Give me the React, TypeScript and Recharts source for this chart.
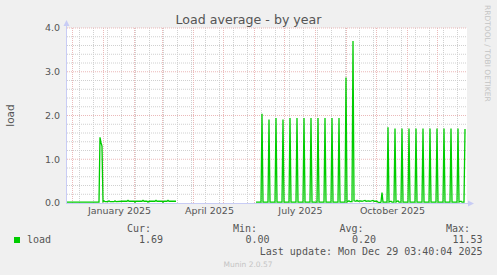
import React from "react";
import { LineChart, Line, XAxis, YAxis, CartesianGrid, ReferenceLine } from "recharts";

// ---- time axis helpers (day index 0 = 25 Nov 2024 12:00) ----
const START = Date.UTC(2024, 10, 25, 12);
const dayOf = (y: number, m: number, d: number) => (Date.UTC(y, m - 1, d) - START) / 86400000;

// ---- data: [day index, load] ----
const winterSeries: [number, number][] = [
  [0, 0.02], [32, 0.02], [33, 1.5], [34, 1.38], [35, 1.3], [36, 0.03], [37, 0.05], [38, 0.03],
  [41, 0.03], [42, 0.05], [43, 0.03], [47, 0.03], [48, 0.05], [49, 0.03], [55, 0.04], [60, 0.04],
  [61, 0.06], [62, 0.04], [67, 0.04], [68, 0.02], [69, 0.04], [75, 0.04], [76, 0.06], [77, 0.04],
  [80, 0.04], [81, 0.02], [82, 0.04], [88, 0.04], [89, 0.06], [90, 0.04], [95, 0.04], [96, 0.02],
  [97, 0.04], [100, 0.04], [101, 0.06], [102, 0.04], [109, 0.04],
];
const gapDay = 150;
const summerSeries: [number, number][] = [
  [189, 0.02], [194, 0.02], [195, 2.04], [196, 0.02], [201, 0.02], [202, 1.91], [203, 0.02],
  [208, 0.02], [209, 1.94], [210, 0.02], [215, 0.02], [216, 1.91], [217, 0.02], [222, 0.02],
  [223, 1.94], [224, 0.02], [229, 0.02], [230, 1.94], [231, 0.02], [236, 0.02], [237, 1.94],
  [238, 0.02], [243, 0.02], [244, 1.94], [245, 0.02], [250, 0.02], [251, 1.94], [252, 0.02],
  [257, 0.02], [258, 1.94], [259, 0.02], [264, 0.02], [265, 1.94], [266, 0.02], [271, 0.02],
  [272, 1.94], [273, 0.02], [278, 0.02], [279, 2.87], [280, 0.02], [282, 0.05], [283, 0.03],
  [285, 0.03], [286, 3.7], [287, 0.05], [289, 0.04], [290, 0.06], [291, 0.04], [294, 0.05],
  [295, 0.04], [298, 0.06], [299, 0.04], [302, 0.05], [303, 0.04], [306, 0.06], [307, 0.04],
  [310, 0.04],
];
const autumnSeries: [number, number][] = [
  [311, 0.02], [313, 0.01], [314, 0.02], [315, 0.24], [316, 0.02], [320, 0.02], [321, 1.73],
  [322, 0.02], [324, 0.04], [325, 0.02], [327, 0.02], [328, 1.7], [329, 0.02], [331, 0.05],
  [332, 0.02], [334, 0.02], [335, 1.7], [336, 0.02], [341, 0.02], [342, 1.7], [343, 0.02],
  [348, 0.02], [349, 1.7], [350, 0.02], [355, 0.02], [356, 1.7], [357, 0.02], [362, 0.02],
  [363, 1.7], [364, 0.02], [369, 0.02], [370, 1.7], [371, 0.02], [376, 0.02], [377, 1.7],
  [378, 0.02], [383, 0.02], [384, 1.7], [385, 0.02], [390, 0.02], [391, 1.7], [392, 0.02],
  [394, 0.04], [395, 0.02], [397, 0.02], [398, 1.69],
];

// ---- axis labels / grid ----
const monthLabels = ["January 2025", "April 2025", "July 2025", "October 2025"];
const monthLabelDays = [dayOf(2025, 1, 17), dayOf(2025, 4, 17), dayOf(2025, 7, 17), dayOf(2025, 10, 17)];
const monthStartDays = [
  dayOf(2024, 12, 1), dayOf(2025, 1, 1), dayOf(2025, 2, 1), dayOf(2025, 3, 1), dayOf(2025, 4, 1),
  dayOf(2025, 5, 1), dayOf(2025, 6, 1), dayOf(2025, 7, 1), dayOf(2025, 8, 1), dayOf(2025, 9, 1),
  dayOf(2025, 10, 1), dayOf(2025, 11, 1), dayOf(2025, 12, 1),
];
const firstMinorDay = dayOf(2024, 12, 8);
const minorDays: number[] = [];
for (let d = firstMinorDay; d < 400; d += 14) minorDays.push(d);
const yTicks = [0, 1, 2, 3, 4];
const yMinor = [0.2, 0.4, 0.6, 0.8, 1.2, 1.4, 1.6, 1.8, 2.2, 2.4, 2.6, 2.8, 3.2, 3.4, 3.6, 3.8];

const legendStats = { cur: "1.69", min: "0.00", avg: "0.20", max: "11.53" };

const data = [
  ...winterSeries.map(([day, load]) => ({ day, load })),
  { day: gapDay, load: null },
  ...summerSeries.map(([day, load]) => ({ day, load })),
  ...autumnSeries.map(([day, load]) => ({ day, load })),
];

// layout
const W = 497, H = 275;
const PL = 67, PR = 467, PT = 28, PB = 203;
const TEXT = "#555555";
const SANS = "DejaVu Sans";
const MONO = "DejaVu Sans Mono";
const AXIS = "#C8CCF5";
const GRID_MINOR = "#D0D0D0";
const GRID_MAJOR = "#EBB9B9";

export default function App() {
  return (
    <div style={{ position: "absolute", left: 0, top: 0, width: W, height: H, background: "#F0F0F0" }}>
      <div style={{ position: "absolute", left: 0, top: 0 }}>
        <LineChart width={W} height={H} data={data} margin={{ top: PT, right: W - PR, left: 0, bottom: 52 }}>
          <CartesianGrid horizontal={false} vertical={false} fill="#FFFFFF" />
          <XAxis
            type="number"
            dataKey="day"
            domain={[0, 400]}
            ticks={monthLabelDays}
            tickFormatter={(v: number) => monthLabels[monthLabelDays.indexOf(v)] ?? ""}
            axisLine={false}
            tickLine={false}
            tickSize={0}
            tickMargin={4.5}
            height={20}
            interval={0}
            allowDataOverflow
            tick={{ fill: TEXT, fontSize: 9.5, fontFamily: SANS }}
          />
          <YAxis
            type="number"
            domain={[0, 4]}
            ticks={yTicks}
            tickFormatter={(v: number) => v.toFixed(1)}
            axisLine={false}
            tickLine={false}
            tickSize={0}
            tickMargin={7}
            width={PL}
            interval={0}
            tick={{ fill: TEXT, fontSize: 9.5, fontFamily: SANS }}
          />
          {yMinor.map((v) => (
            <ReferenceLine key={"hm" + v} y={v} stroke={GRID_MINOR} strokeDasharray="1 1" strokeWidth={1} />
          ))}
          {minorDays.map((v) => (
            <ReferenceLine key={"vm" + v} x={v} stroke={GRID_MINOR} strokeDasharray="1 1" strokeWidth={1} />
          ))}
          {yTicks.slice(1).map((v) => (
            <ReferenceLine key={"hM" + v} y={v} stroke={GRID_MAJOR} strokeDasharray="1 1" strokeWidth={1} />
          ))}
          {monthStartDays.map((v) => (
            <ReferenceLine key={"vM" + v} x={v} stroke={GRID_MAJOR} strokeDasharray="1 1" strokeWidth={1} />
          ))}
          <Line
            type="linear"
            dataKey="load"
            stroke="#00CC00"
            strokeWidth={1.3}
            dot={false}
            activeDot={false}
            connectNulls={false}
            isAnimationActive={false}
          />
        </LineChart>
      </div>
      <svg width={W} height={H} style={{ position: "absolute", left: 0, top: 0, pointerEvents: "none" }}>
        {/* axes with arrows */}
        <line x1={PL} y1={PB + 0.5} x2={PR + 3} y2={PB + 0.5} stroke={AXIS} strokeWidth={1} />
        <polygon points={`${PR + 1},${PB - 2.5} ${PR + 1},${PB + 3.5} ${PR + 7},${PB + 0.5}`} fill={AXIS} />
        <line x1={PL - 0.5} y1={PB + 1} x2={PL - 0.5} y2={PT - 4} stroke={AXIS} strokeWidth={1} />
        <polygon points={`${PL - 3.5},${PT - 2} ${PL + 2.5},${PT - 2} ${PL - 0.5},${PT - 8}`} fill={AXIS} />

        <text x={248.5} y={24} textAnchor="middle" fontFamily={SANS} fontSize={12.6} fill={TEXT}>
          Load average - by year
        </text>
        <text
          transform="translate(14,115.5) rotate(-90)"
          textAnchor="middle"
          fontFamily={SANS}
          fontSize={10.5}
          fill={TEXT}
        >
          load
        </text>
        <text
          transform="translate(485,5) rotate(90)"
          textAnchor="start"
          fontFamily={SANS}
          fontSize={7.5}
          fill="#C4C4C4"
        >
          RRDTOOL / TOBI OETIKER
        </text>

        {/* legend */}
        <g fontFamily={MONO} fontSize={10} fill={TEXT}>
          <text x={151} y={231.5} textAnchor="end">Cur:</text>
          <text x={257} y={231.5} textAnchor="end">Min:</text>
          <text x={363.5} y={231.5} textAnchor="end">Avg:</text>
          <text x={470} y={231.5} textAnchor="end">Max:</text>
          <rect x={14} y={237} width={6} height={6} fill="#00CC00" />
          <text x={27} y={243.3}>load</text>
          <text x={163} y={243.3} textAnchor="end">{legendStats.cur}</text>
          <text x={269.5} y={243.3} textAnchor="end">{legendStats.min}</text>
          <text x={376} y={243.3} textAnchor="end">{legendStats.avg}</text>
          <text x={482.5} y={243.3} textAnchor="end">{legendStats.max}</text>
          <text x={482.5} y={255} textAnchor="end">Last update: Mon Dec 29 03:40:04 2025</text>
        </g>
        <text x={248} y={267} textAnchor="middle" fontFamily={SANS} fontSize={7.5} fill="#C4C4C4">
          Munin 2.0.57
        </text>
      </svg>
    </div>
  );
}
